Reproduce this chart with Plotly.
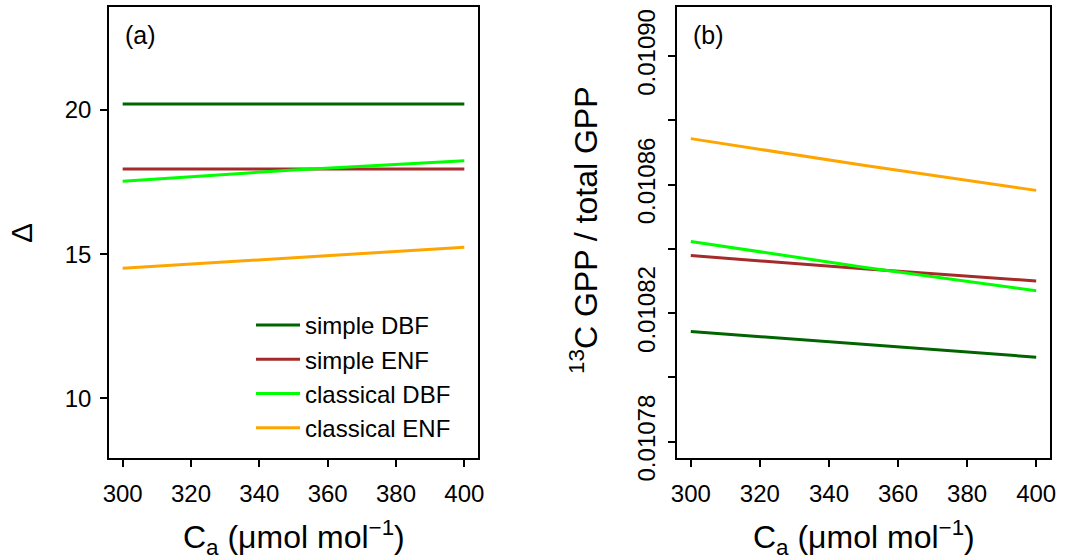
import plotly.graph_objects as go

# ---- data ----
ca = [300, 350, 400]
series_names = ["simple DBF", "simple ENF", "classical DBF", "classical ENF"]
series_colors = ["#006400", "#A52A2A", "#00FF00", "#FFA500"]

delta_simple_dbf = [20.21, 20.21, 20.21]
delta_simple_enf = [17.95, 17.95, 17.95]
delta_classical_dbf = [17.53, 17.92, 18.24]
delta_classical_enf = [14.51, 14.88, 15.24]

ratio_simple_dbf = [0.0108143, 0.0108102, 0.0108063]
ratio_simple_enf = [0.0108379, 0.0108338, 0.0108300]
ratio_classical_dbf = [0.0108423, 0.0108343, 0.0108270]
ratio_classical_enf = [0.0108743, 0.0108660, 0.0108582]

x_ticks = [300, 320, 340, 360, 380, 400]
ya_ticks = [10, 15, 20]
yb_ticks = [0.01078, 0.01080, 0.01082, 0.01084, 0.01086, 0.01088, 0.01090]
yb_ticktext = ["0.01078", "", "0.01082", "", "0.01086", "", "0.01090"]

W, H = 1075, 560
FONT = "Liberation Sans, Arial, Helvetica, sans-serif"

fig = go.Figure()
delta_sets = [delta_simple_dbf, delta_simple_enf, delta_classical_dbf, delta_classical_enf]
ratio_sets = [ratio_simple_dbf, ratio_simple_enf, ratio_classical_dbf, ratio_classical_enf]

for name, col, ys in zip(series_names, series_colors, delta_sets):
    fig.add_trace(go.Scatter(x=ca, y=ys, mode="lines", name=name,
                             line=dict(color=col, width=3), xaxis="x", yaxis="y",
                             showlegend=True))
for name, col, ys in zip(series_names, series_colors, ratio_sets):
    fig.add_trace(go.Scatter(x=ca, y=ys, mode="lines", name=name,
                             line=dict(color=col, width=3), xaxis="x2", yaxis="y2",
                             showlegend=False))

def px_x(p):
    return p / W

def px_y(p):
    return 1 - p / H

axis_common = dict(showline=True, mirror=True, linecolor="black", linewidth=1.5,
                   ticks="outside", ticklen=7, tickwidth=1.5, tickcolor="black",
                   showgrid=False, zeroline=False, automargin=False,
                   tickfont=dict(family=FONT, size=24, color="black"))

fig.update_layout(
    width=W, height=H,
    margin=dict(l=0, r=0, t=0, b=0, autoexpand=False),
    paper_bgcolor="white", plot_bgcolor="white",
    font=dict(family=FONT, color="black"),
    xaxis=dict(domain=[px_x(109), px_x(478)], range=[296, 404], tickvals=x_ticks,
               anchor="y", ticklabelstandoff=6, **axis_common),
    yaxis=dict(domain=[px_y(458), px_y(7)], range=[7.929, 23.573], tickvals=ya_ticks,
               anchor="x", ticklabelstandoff=4, **axis_common),
    xaxis2=dict(domain=[px_x(677), px_x(1050)], range=[296, 404], tickvals=x_ticks,
                anchor="y2", ticklabelstandoff=6, **axis_common),
    yaxis2=dict(domain=[px_y(458), px_y(7)], range=[0.01077493, 0.01091525],
                tickvals=yb_ticks, ticktext=yb_ticktext, tickangle=-90,
                anchor="x2", ticklabelstandoff=4, **axis_common),
    legend=dict(x=px_x(251), y=px_y(303), xanchor="left", yanchor="top",
                bgcolor="rgba(0,0,0,0)", borderwidth=0, itemwidth=44,
                font=dict(family=FONT, size=24, color="black"),
                tracegroupgap=0),
    showlegend=True,
)

annotations = [
    dict(text="(a)", x=px_x(140), y=px_y(35)),
    dict(text="(b)", x=px_x(708), y=px_y(35)),
    dict(text="C<sub>a</sub> (μmol mol<sup>−1</sup>)", x=px_x(293.5), y=px_y(537), size=32),
    dict(text="C<sub>a</sub> (μmol mol<sup>−1</sup>)", x=px_x(863.5), y=px_y(537), size=32),
    dict(text="Δ", x=px_x(21), y=px_y(233), size=30, angle=-90),
    dict(text="<sup>13</sup>C GPP / total GPP", x=px_x(584), y=px_y(230), size=32, angle=-90),
]
for a in annotations:
    fig.add_annotation(text=a["text"], x=a["x"], y=a["y"], xref="paper", yref="paper",
                       xanchor="center", yanchor="middle", showarrow=False,
                       textangle=a.get("angle", 0),
                       font=dict(family=FONT, size=a.get("size", 25), color="black"))

fig.write_html("out.html")
